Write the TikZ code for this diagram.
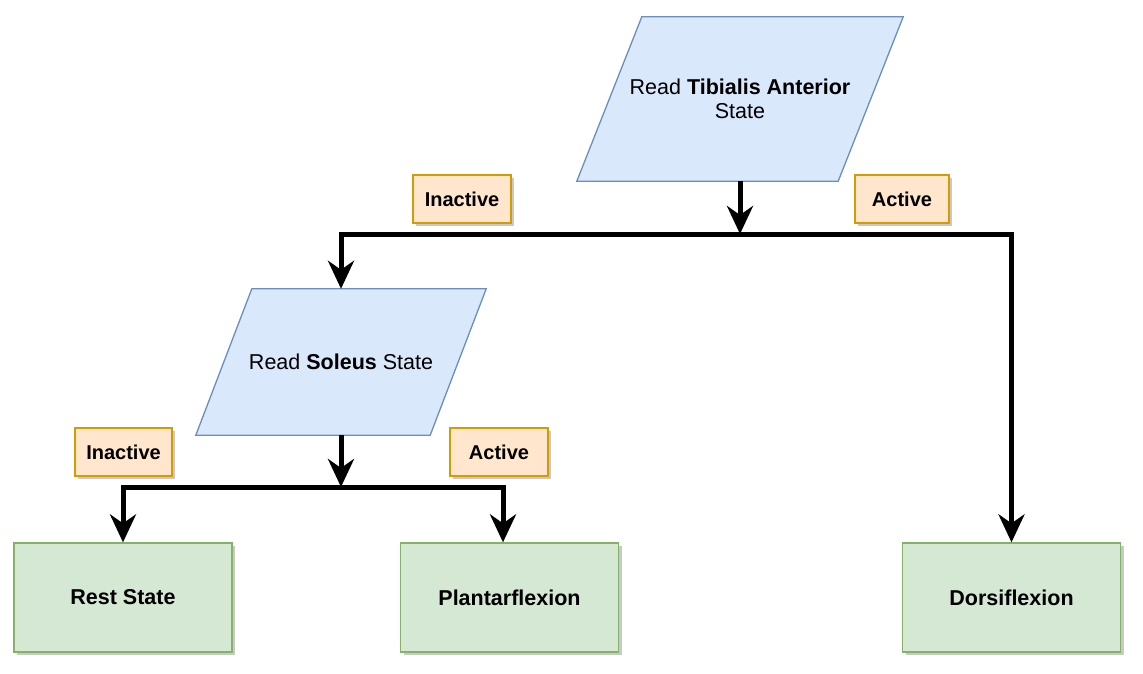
\documentclass[tikz,border=0pt]{standalone}
\usepackage{fontspec}
\setmainfont{Liberation Sans}
\usetikzlibrary{arrows.meta,calc,backgrounds,shadows}
\definecolor{bfill}{HTML}{DAE8FC}
\definecolor{bstroke}{HTML}{6C8EBF}
\definecolor{gfill}{HTML}{D5E8D4}
\definecolor{gstroke}{HTML}{82B366}
\definecolor{ofill}{HTML}{FFE6CC}
\definecolor{ostroke}{HTML}{D79B00}
\begin{document}
\begin{tikzpicture}[x=1pt,y=-1pt,
  font=\fontsize{21.5}{24}\selectfont,
  shad/.style={drop shadow={shadow xshift=3pt,shadow yshift=-3pt,opacity=0.3,fill=black!70}},
  pio/.style={align=center, inner sep=0pt},
  pgram/.style={draw=bstroke, fill=bfill, line width=1.3pt, line join=miter},
  sbox/.style={draw=gstroke, fill=gfill, line width=1.3pt, minimum width=218pt, minimum height=109pt, font=\fontsize{21.5}{24}\selectfont\bfseries, shad},
  lbl/.style={draw=ostroke, fill=ofill, line width=1.3pt, minimum height=48pt, inner sep=0pt, font=\fontsize{20}{24}\selectfont\bfseries, shad},
  wire/.style={line width=5pt, line join=miter},
  arr/.style={wire, -{Stealth[length=28pt,width=26pt,inset=9pt]}}]
\useasboundingbox (0,0) rectangle (1143,673);

% input nodes
\node[pio, minimum width=326pt, minimum height=164pt] (ta) at (740,99) {Read \textbf{Tibialis Anterior}\\State};
\node[pio, minimum width=290pt, minimum height=146pt] (so) at (341,362) {Read \textbf{Soleus} State};

\begin{scope}[on background layer]
  \fill[black, opacity=0.3, shift={(3,3)}] ($(ta.north west)+(65,0)$) -- (ta.north east) -- ($(ta.south east)-(65,0)$) -- (ta.south west) -- cycle;
  \draw[pgram] ($(ta.north west)+(65,0)$) -- (ta.north east) -- ($(ta.south east)-(65,0)$) -- (ta.south west) -- cycle;
  \fill[black, opacity=0.3, shift={(3,3)}] ($(so.north west)+(56,0)$) -- (so.north east) -- ($(so.south east)-(56,0)$) -- (so.south west) -- cycle;
  \draw[pgram] ($(so.north west)+(56,0)$) -- (so.north east) -- ($(so.south east)-(56,0)$) -- (so.south west) -- cycle;
\end{scope}

% outcome boxes
\node[sbox] (rs) at (123,597.5) {Rest State};
\node[sbox] (pf) at (509.5,597.5) {Plantarflexion};
\node[sbox] (ds) at (1011.5,597.5) {Dorsiflexion};

% labels
\node[lbl, minimum width=98pt] (in1) at (462,199) {Inactive};
\node[lbl, minimum width=94pt] (ac1) at (902,199) {Active};
\node[lbl, minimum width=97pt] (in2) at (123.5,452) {Inactive};
\node[lbl, minimum width=98pt] (ac2) at (499,452) {Active};

% junctions
\coordinate (j1) at (740,234);
\coordinate (j2) at (341,487);
\coordinate (pfin) at ([xshift=-6.5pt]pf.north);

% connectors
\draw[arr] (ta.south) -- (j1);
\draw[arr] (j1) -| (so.north);
\draw[arr] (j1) -| (ds.north);
\draw[arr] (so.south) -- (j2);
\draw[arr] (j2) -| (rs.north);
\draw[arr] (j2) -| (pfin);
\end{tikzpicture}
\end{document}
